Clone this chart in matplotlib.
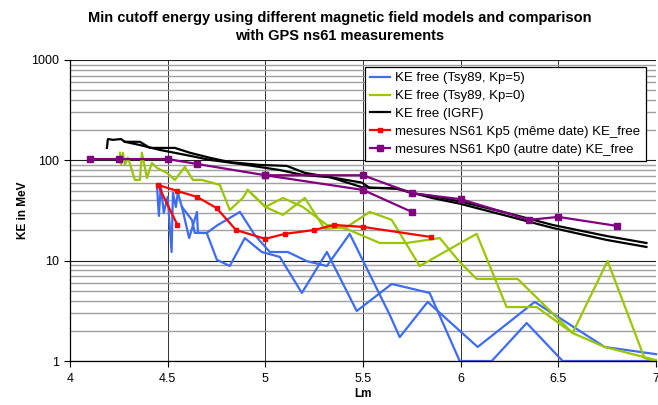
import matplotlib.pyplot as plt
from matplotlib.ticker import FixedLocator, FuncFormatter, LogLocator, NullFormatter

plt.rcParams['font.family'] = ['Liberation Sans', 'DejaVu Sans']

# KE free (Tsy89, Kp=5) : two passes
tsy5_a_lm = [4.445, 4.455, 4.465, 4.48, 4.50, 4.52, 4.527, 4.542, 4.552, 4.573, 4.61, 4.65,
             4.655, 4.70, 4.757, 4.87, 4.946, 5.023, 5.115, 5.212, 5.315, 5.432, 5.637,
             5.688, 5.831, 6.087, 6.379, 6.737, 7.0]
tsy5_a_ke = [56.9, 27.9, 56.9, 29.9, 43.2, 12.2, 47.3, 34.3, 47.3, 34.3, 16.8, 30.6,
             18.9, 18.9, 22.7, 30.6, 18.0, 12.2, 12.2, 9.9, 8.85, 18.5, 2.88,
             1.73, 3.88, 1.38, 3.88, 1.38, 1.17]
tsy5_b_lm = [4.573, 4.624, 4.639, 4.70, 4.752, 4.818, 4.895, 4.982, 5.074, 5.187, 5.315,
             5.468, 5.647, 5.841, 5.995, 6.159, 6.338, 6.522, 7.0]
tsy5_b_ke = [34.3, 25.5, 18.9, 18.9, 10.2, 8.85, 16.8, 12.2, 10.9, 4.77, 12.2,
             3.15, 5.86, 4.77, 1.0, 1.0, 2.39, 1.0, 1.0]

# KE free (Tsy89, Kp=0)
tsy0_a_lm = [4.256, 4.261, 4.271, 4.281, 4.297, 4.332, 4.358, 4.368, 4.394, 4.419, 4.445,
             4.496, 4.537, 4.588, 4.629, 4.675, 4.767, 4.818, 4.885, 4.91, 5.0, 5.09,
             5.192, 5.315, 5.417, 5.586, 5.724, 5.893, 5.995, 6.082, 6.292, 6.573,
             6.737, 7.0]
tsy0_a_ke = [119, 90, 119, 90, 106, 63.8, 63.8, 119, 66.8, 94.2, 84,
             75, 63.8, 86, 63.8, 63.8, 56.9, 32, 42.2, 50.7, 34.3, 42.2,
             34.3, 22.7, 20.7, 15, 15, 16.8, 9.7, 6.57, 6.57, 1.9,
             1.38, 1.02]
tsy0_b_lm = [4.91, 5.0, 5.09, 5.202, 5.304, 5.417, 5.535, 5.647, 5.79, 6.082, 6.235,
             6.389, 6.573, 6.752, 6.941, 7.0]
tsy0_b_ke = [50.7, 34.3, 28.6, 42.2, 20.7, 21.7, 30.6, 25.5, 8.85, 18.5, 3.45,
             3.45, 1.9, 9.93, 1.07, 1.0]

# KE free (IGRF)
igrf_a_lm = [4.189, 4.194, 4.22, 4.261, 4.281, 4.358, 4.409, 4.537, 4.614, 4.716, 4.818,
             4.972, 5.11, 5.202, 5.33, 5.494, 5.535, 5.673, 5.754, 5.857, 5.995, 6.235,
             6.471, 6.747, 6.951]
igrf_a_ke = [133, 163, 160, 163, 153, 153, 133, 133, 119, 106, 96,
             90, 88, 75, 68, 60, 53, 53, 47, 44, 39, 30,
             22.7, 17.6, 15]
igrf_b_lm = [4.281, 4.358, 4.46, 4.614, 4.716, 4.87, 5.074, 5.192, 5.33, 5.494, 5.673,
             5.857, 5.995, 6.235, 6.471, 6.747, 6.951]
igrf_b_ke = [153, 142, 127, 111, 101, 92, 80, 71.5, 68, 54, 52,
             42, 37, 28, 21.2, 16.1, 13.7]

# mesures NS61 Kp5 (meme date)
ns61_kp5_lm = [4.55, 4.45, 4.55, 4.65, 4.75, 4.85, 5.0, 5.1, 5.25, 5.35, 5.5, 5.85]
ns61_kp5_ke = [22.7, 56.9, 49.5, 43.2, 33.5, 20.2, 16.5, 18.5, 20.2, 22.7, 21.7, 17.2]

# mesures NS61 Kp0 (autre date)
ns61_kp0_lm = [4.1, 4.25, 4.5, 4.65, 5.0, 5.5, 5.75, 6.0, 6.35, 6.5, 6.8]
ns61_kp0_ke = [103, 103, 103, 92, 71, 71, 47, 41, 25.5, 27.3, 22.2]
ns61_kp0_b_lm = [5.0, 5.5, 5.75]
ns61_kp0_b_ke = [71, 50.7, 30.6]

x_ticks = [4, 4.5, 5, 5.5, 6, 6.5, 7]
y_ticks = [1, 10, 100, 1000]

fig = plt.figure(figsize=(6.58, 4.05), dpi=100)
ax = fig.add_axes([70 / 658, 1 - 361 / 405, 586 / 658, 301 / 405])

blue = '#3d6cf2'
green = '#99c600'
purple = '#800080'
lw = 1.6

ax.plot(tsy5_a_lm, tsy5_a_ke, color=blue, lw=lw, label='KE free (Tsy89, Kp=5)', clip_on=False)
ax.plot(tsy5_b_lm, tsy5_b_ke, color=blue, lw=lw, clip_on=False)
ax.plot(tsy0_a_lm, tsy0_a_ke, color=green, lw=lw, label='KE free (Tsy89, Kp=0)', clip_on=False)
ax.plot(tsy0_b_lm, tsy0_b_ke, color=green, lw=lw, clip_on=False)
ax.plot(igrf_a_lm, igrf_a_ke, color='black', lw=lw, label='KE free (IGRF)')
ax.plot(igrf_b_lm, igrf_b_ke, color='black', lw=lw)
ax.plot(ns61_kp5_lm, ns61_kp5_ke, color='red', lw=lw, marker='s', ms=3,
        label='mesures NS61 Kp5 (même date) KE_free')
ax.plot(ns61_kp0_lm, ns61_kp0_ke, color=purple, lw=lw, marker='s', ms=4,
        label='mesures NS61 Kp0 (autre date) KE_free')
ax.plot(ns61_kp0_b_lm, ns61_kp0_b_ke, color=purple, lw=lw, marker='s', ms=4)

ax.set_yscale('log')
ax.set_xlim(4, 7)
ax.set_ylim(1, 1000)
ax.xaxis.set_major_locator(FixedLocator(x_ticks))
ax.xaxis.set_major_formatter(FuncFormatter(lambda v, p: '%g' % v))
ax.yaxis.set_major_locator(FixedLocator(y_ticks))
ax.yaxis.set_major_formatter(FuncFormatter(lambda v, p: '%g' % v))
ax.yaxis.set_minor_locator(LogLocator(base=10, subs=range(2, 10)))
ax.yaxis.set_minor_formatter(NullFormatter())

ax.grid(True, which='major', axis='y', color='#202020', lw=0.8)
ax.grid(True, which='minor', axis='y', color='#a0a0a0', lw=1.0)
ax.grid(True, which='major', axis='x', color='#303030', lw=0.7)
ax.set_axisbelow(True)

for s in ['top', 'right']:
    ax.spines[s].set_visible(False)
ax.spines['left'].set_linewidth(0.9)
ax.spines['bottom'].set_linewidth(0.9)
ax.tick_params(axis='x', which='major', direction='out', length=4, width=0.8,
               labelsize=9, pad=5)
ax.tick_params(axis='y', which='major', direction='out', length=4, width=0.8,
               labelsize=9, pad=4)
ax.tick_params(axis='y', which='minor', length=0)

ax.set_xlabel('Lm', fontsize=8.5, fontweight='bold', labelpad=2)
ax.set_ylabel('KE in MeV', fontsize=8.5, fontweight='bold', labelpad=1)

fig.text(340 / 658, 1 - 27 / 405,
         'Min cutoff energy using different magnetic field models and comparison\nwith GPS ns61 measurements',
         ha='center', va='center', fontsize=10.5, fontweight='bold', linespacing=1.3)

leg = ax.legend(loc='upper left', bbox_to_anchor=(0.503, 0.977), fontsize=9.5,
                frameon=True, fancybox=False, edgecolor='black', framealpha=1,
                handlelength=1.5, handletextpad=0.4, borderpad=0.4, labelspacing=0.42,
                borderaxespad=0)
leg.get_frame().set_linewidth(0.9)

fig.savefig('out.png', dpi=100)
